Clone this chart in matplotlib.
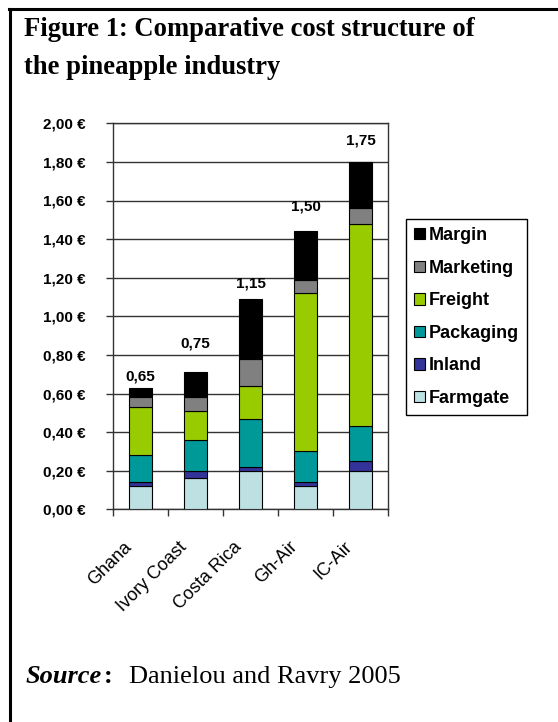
import numpy as np
import matplotlib
matplotlib.use("Agg")
import matplotlib.pyplot as plt
import matplotlib.transforms as mtransforms
from matplotlib.patches import Patch
from matplotlib.lines import Line2D

# data (EUR per kg)
countries = ["Ghana", "Ivory Coast", "Costa Rica", "Gh-Air", "IC-Air"]
farmgate = [0.12, 0.16, 0.20, 0.12, 0.20]
inland = [0.02, 0.04, 0.02, 0.02, 0.05]
packaging = [0.14, 0.16, 0.25, 0.16, 0.18]
freight = [0.25, 0.15, 0.17, 0.82, 1.05]
marketing = [0.05, 0.07, 0.14, 0.07, 0.08]
margin = [0.05, 0.13, 0.31, 0.25, 0.24]
total_labels = ["0,65", "0,75", "1,15", "1,50", "1,75"]
label_heights = [0.69, 0.86, 1.17, 1.57, 1.91]

components = ["Farmgate", "Inland", "Packaging", "Freight", "Marketing", "Margin"]
values = [farmgate, inland, packaging, freight, marketing, margin]
colors = ["#bde0e3", "#333399", "#009999", "#99cc00", "#808080", "#000000"]

sans = "Liberation Sans"
serif = "Liberation Serif"

fig = plt.figure(figsize=(5.58, 7.22), dpi=100)

# frame lines of the box around the figure (top and left)
fig.add_artist(Line2D([9 / 558, 1.0], [1 - 9 / 722, 1 - 9 / 722], color="black", lw=2.2))
fig.add_artist(Line2D([10 / 558, 10 / 558], [0.0, 1 - 9 / 722], color="black", lw=2.2))

fig.text(24 / 558, 1 - 36 / 722, "Figure 1: Comparative cost structure of",
         family=serif, weight="bold", fontsize=19.2, va="baseline")
fig.text(24 / 558, 1 - 74 / 722, "the pineapple industry",
         family=serif, weight="bold", fontsize=19.2, va="baseline")

ax = fig.add_axes([113 / 558, 1 - 509.3 / 722, 275 / 558, 386 / 722])
x = np.arange(len(countries))
bottom = np.zeros(len(countries))
for name, vals, c in zip(components, values, colors):
    ax.bar(x, vals, 0.41, bottom=bottom, color=c, edgecolor="black", linewidth=0.8,
           label=name, zorder=3)
    bottom += np.array(vals)

for i, (lab, h) in enumerate(zip(total_labels, label_heights)):
    ax.text(x[i], h, lab, ha="center", va="center", family=sans, weight="bold",
            fontsize=11)

ax.set_xlim(-0.5, len(countries) - 0.5)
ax.set_ylim(0, 2.0)
yt = np.arange(0, 2.01, 0.2)
ax.set_yticks(yt)
ax.set_yticklabels([f"{v:.2f} €".replace(".", ",") for v in yt],
                   family=sans, weight="bold", fontsize=11)
ax.yaxis.grid(True, color="#333333", lw=1.0, zorder=0)
ax.tick_params(axis="y", direction="out", length=5, width=1, color="#333333", pad=15)

ax.set_xticks(np.arange(-0.5, len(countries), 1.0))
ax.set_xticklabels([])
ax.tick_params(axis="x", which="major", direction="out", length=5, width=1, color="#333333")
ax.set_xticks(x, minor=True)
ax.set_xticklabels(countries, minor=True, rotation=45, ha="right", va="top",
                   rotation_mode="anchor", family=sans, fontsize=13)
ax.tick_params(axis="x", which="minor", length=0, pad=21)
shift = mtransforms.ScaledTranslation(-0.17, 0, fig.dpi_scale_trans)
for t in ax.get_xticklabels(minor=True):
    t.set_transform(t.get_transform() + shift)

for s in ax.spines.values():
    s.set_color("#333333")
    s.set_linewidth(1.0)

handles = [Patch(facecolor=c, edgecolor="black", linewidth=0.8) for c in colors][::-1]
fig.legend(handles, components[::-1], loc="upper left",
           bbox_to_anchor=(405.7 / 558, 1 - 219 / 722),
           prop={"family": sans, "weight": "bold", "size": 13},
           frameon=True, fancybox=False, edgecolor="black", framealpha=1,
           handlelength=0.6, handleheight=0.6, handletextpad=0.25,
           labelspacing=0.86, borderpad=0.45, borderaxespad=0)

# source line: bold italic "Source", bold colon, regular text
renderer = fig.canvas.get_renderer()
t1 = fig.text(26 / 558, 1 - 683 / 722, "Source", family=serif, weight="bold",
              style="italic", fontsize=19, va="baseline")
bb = t1.get_window_extent(renderer)
t2 = fig.text(bb.x1 / fig.bbox.width + 2 / 558, 1 - 683 / 722, ":", family=serif,
              weight="bold", fontsize=19, va="baseline")
bb = t2.get_window_extent(renderer)
fig.text(bb.x1 / fig.bbox.width + 16 / 558, 1 - 683 / 722, "Danielou and Ravry 2005",
         family=serif, fontsize=19, va="baseline")

fig.savefig("out.png", dpi=100)
